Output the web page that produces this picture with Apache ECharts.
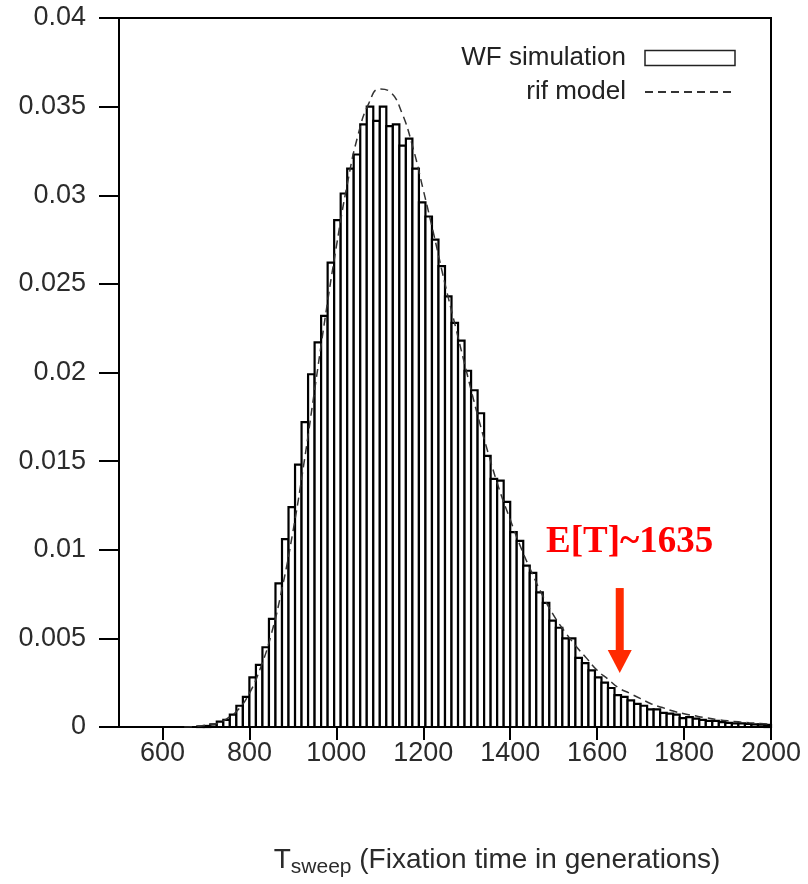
<!DOCTYPE html>
<html>
<head>
<meta charset="utf-8">
<script src="https://cdn.jsdelivr.net/npm/echarts@6/dist/echarts.min.js"></script>
<style>
  html, body { margin: 0; padding: 0; background: #fff; }
  #chart { width: 808px; height: 884px; }
</style>
</head>
<body>
<div id="chart"></div>
<script>
// histogram of the WF simulation: bins of 15 generations starting at 500
const binStart = 500;
const binWidth = 15;
const simDensity = [
  0, 0, 0, 0, 0, 0, 0, 0, 0, 0,
  0, 0, 0.00003, 0.00006, 0.00015, 0.0003, 0.0004, 0.0007, 0.0012, 0.0017,
  0.0028, 0.0035, 0.0045, 0.0061, 0.0081, 0.0106, 0.0124, 0.0148, 0.0172, 0.0199,
  0.0217, 0.0232, 0.0262, 0.0286, 0.0301, 0.0315, 0.0323, 0.0340, 0.0350, 0.0342,
  0.0350, 0.0339, 0.0340, 0.0328, 0.0332, 0.0315, 0.0296, 0.0288, 0.0275, 0.0260,
  0.0243, 0.0228, 0.0218, 0.0201, 0.0190, 0.0177, 0.0153, 0.0140, 0.0139, 0.0127,
  0.0110, 0.0105, 0.0091, 0.0087, 0.0076, 0.0070, 0.0060, 0.0056, 0.0050, 0.0050,
  0.0039, 0.0036, 0.0032, 0.0028, 0.0025, 0.0022, 0.0018, 0.0017, 0.0015, 0.0013,
  0.0012, 0.0010, 0.0010, 0.0008, 0.00075, 0.0007, 0.0005, 0.00056, 0.00047, 0.0004,
  0.00034, 0.00034, 0.00028, 0.00023, 0.0002, 0.0002, 0.00017, 0.00015, 0.00013, 0.00012
];

// rif model curve
const modelT = [650, 675, 700, 725, 750, 775, 800, 825, 850, 875, 900, 925, 950, 975,
  1000, 1025, 1050, 1075, 1100, 1125, 1150, 1175, 1200, 1225, 1250, 1275, 1300, 1325,
  1350, 1375, 1400, 1425, 1450, 1475, 1500, 1525, 1550, 1575, 1600, 1625, 1650, 1675,
  1700, 1725, 1750, 1775, 1800, 1825, 1850, 1875, 1900, 1925, 1950, 1975, 2000];
const modelDensity = [0, 0.00003, 0.0001, 0.0002, 0.0005, 0.0010, 0.0019, 0.0033, 0.0052,
  0.0078, 0.0110, 0.0148, 0.0190, 0.0232, 0.0271, 0.0306, 0.0334, 0.0352, 0.0360, 0.0358,
  0.0347, 0.0328, 0.0303, 0.0277, 0.0250, 0.0225, 0.0200, 0.0176, 0.0154, 0.0134, 0.0117,
  0.0101, 0.0087, 0.0074, 0.0063, 0.0054, 0.0046, 0.0039, 0.0032, 0.0027, 0.0022, 0.0019,
  0.0016, 0.0013, 0.0011, 0.0009, 0.00075, 0.00063, 0.00052, 0.00043, 0.00035, 0.00029,
  0.00024, 0.0002, 0.00016];

const xTicks = [600, 800, 1000, 1200, 1400, 1600, 1800, 2000];

// annotation: mean fixation time
const meanLabel = 'E[T]~1635';
const arrowT = 1652;

const chart = echarts.init(document.getElementById('chart'));

const histData = simDensity.map((v, i) => [binStart + i * binWidth, binStart + (i + 1) * binWidth, v]);
const modelData = modelT.map((t, i) => [t, modelDensity[i]]);

const font = 'Liberation Sans, Arial, sans-serif';

chart.setOption({
  animation: false,
  grid: {
    left: 119, right: 37, top: 18, bottom: 157,
    show: true, borderColor: '#000', borderWidth: 2
  },
  legend: {
    orient: 'vertical',
    right: 67, top: 40,
    align: 'right',
    itemWidth: 90, itemHeight: 15, itemGap: 8,
    textStyle: { fontSize: 26, color: '#222', fontFamily: font, padding: [0, 14, 0, 0] },
    data: [
      { name: 'WF simulation', icon: 'rect', itemStyle: { color: '#fff', borderColor: '#222', borderWidth: 1.5 } },
      { name: 'rif model', itemStyle: { opacity: 0 } }
    ]
  },
  xAxis: {
    type: 'value',
    min: 500, max: 2000,
    splitLine: { show: false },
    axisLine: { lineStyle: { color: '#000', width: 2 } },
    axisTick: { length: 13, lineStyle: { color: '#000', width: 2 }, customValues: xTicks },
    axisLabel: {
      fontSize: 27, color: '#2b2b2b', fontFamily: font, margin: 13, customValues: xTicks,
      formatter: (v) => String(v)
    },
    name: '{t|T}{sub|sweep}{t| (Fixation time in generations)}',
    nameLocation: 'middle',
    nameGap: 115,
    nameTextStyle: {
      padding: [0, 0, 0, 104],
      rich: {
        t: { fontSize: 28, color: '#2b2b2b', fontFamily: font },
        sub: { fontSize: 21, color: '#2b2b2b', fontFamily: font, verticalAlign: 'bottom', padding: [15, 0, 0, 0] }
      }
    }
  },
  yAxis: {
    type: 'value',
    min: 0, max: 0.04, interval: 0.005,
    splitLine: { show: false },
    axisLine: { show: true, lineStyle: { color: '#000', width: 2 } },
    axisTick: { show: true, length: 20, lineStyle: { color: '#000', width: 2 } },
    axisLabel: { fontSize: 27, color: '#2b2b2b', fontFamily: font, margin: 33 }
  },
  series: [
    {
      name: 'WF simulation',
      type: 'custom',
      data: histData,
      encode: { x: [0, 1], y: 2 },
      renderItem: function (params, api) {
        const top = api.coord([api.value(0), api.value(2)]);
        const base = api.coord([api.value(1), 0]);
        return {
          type: 'rect',
          shape: { x: top[0], y: top[1], width: base[0] - top[0], height: base[1] - top[1] },
          style: { fill: '#fff', stroke: '#000', lineWidth: 2.2 }
        };
      },
      z: 2
    },
    {
      name: 'rif model',
      type: 'line',
      data: modelData,
      smooth: true,
      symbol: 'none',
      lineStyle: { color: '#333', width: 1.5, type: [8, 5] },
      itemStyle: { color: '#333' },
      z: 3
    }
  ]
});

// red annotation placed at data coordinates
const shaftTop = chart.convertToPixel({ gridIndex: 0 }, [arrowT, 0.00784]);
const shaftEnd = chart.convertToPixel({ gridIndex: 0 }, [arrowT, 0.00434]);
const tip = chart.convertToPixel({ gridIndex: 0 }, [arrowT, 0.00305]);
const textPos = chart.convertToPixel({ gridIndex: 0 }, [1675, 0.01044]);

chart.setOption({
  graphic: [
    {
      type: 'text',
      x: textPos[0], y: textPos[1],
      style: {
        text: meanLabel,
        fill: '#ff0000',
        font: 'bold 37px "Liberation Serif", "Times New Roman", serif',
        align: 'center', verticalAlign: 'middle'
      }
    },
    {
      type: 'rect',
      shape: { x: shaftTop[0] - 4, y: shaftTop[1], width: 8, height: shaftEnd[1] - shaftTop[1] + 1 },
      style: { fill: '#ff2a00' }
    },
    {
      type: 'polygon',
      shape: { points: [[shaftEnd[0] - 12, shaftEnd[1]], [shaftEnd[0] + 12, shaftEnd[1]], [tip[0], tip[1]]] },
      style: { fill: '#ff2a00' }
    }
  ]
});

window.addEventListener('resize', () => {
  if (chart) {
    chart.resize();
  }
});
</script>
</body>
</html>
